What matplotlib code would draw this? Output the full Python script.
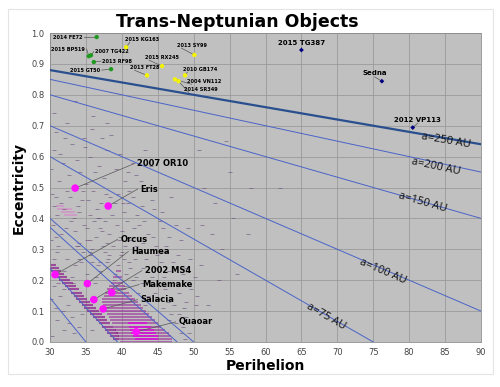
import numpy as np
import matplotlib
matplotlib.use("Agg")
import matplotlib.pyplot as plt
from matplotlib.patches import Rectangle

# semi-major axis curves e = 1 - q/a
a_lines = [35, 39.4, 47.7, 50, 75, 100, 150, 200, 250]
a_labelled = [250, 200, 150, 100, 75]
a_label_pos = {250: (85.1, 0.651), 200: (83.7, 0.567), 150: (81.9, 0.453),
               100: (76.3, 0.227), 75: (68.4, 0.082)}

# named objects
big_names = ["2007 OR10", "Eris", "Orcus", "Haumea", "2002 MS4", "Makemake", "Salacia", "Quaoar"]
big_q = [33.5, 38.1, 30.7, 35.2, 36.1, 38.6, 37.4, 42.0]
big_e = [0.498, 0.44, 0.218, 0.189, 0.137, 0.16, 0.107, 0.033]
big_lab = [(42.1, 0.577), (42.6, 0.495), (39.8, 0.332), (41.3, 0.293),
           (43.2, 0.231), (42.8, 0.186), (42.6, 0.137), (47.9, 0.065)]

green_names = ["2014 FE72", "2015 BP519", "2007 TG422", "2013 RF98", "2015 GT50"]
green_q = [36.5, 35.4, 35.7, 36.1, 38.5]
green_e = [0.987, 0.925, 0.928, 0.906, 0.883]
green_lab = [(34.5, 0.987, "right"), (34.9, 0.948, "right"), (36.3, 0.94, "left"),
             (37.3, 0.909, "left"), (37.0, 0.88, "right")]

yellow_names = ["2015 KG163", "2013 SY99", "2015 RX245", "2013 FT28", "2010 GB174", "2004 VN112", "2014 SR349"]
yellow_q = [40.6, 50.1, 45.6, 43.5, 48.8, 47.4, 47.9]
yellow_e = [0.954, 0.929, 0.893, 0.863, 0.863, 0.85, 0.844]
yellow_lab = [(40.5, 0.98), (47.7, 0.961), (43.2, 0.922), (41.2, 0.889),
              (48.5, 0.883), (49.1, 0.844), (48.7, 0.818)]

navy_names = ["2015 TG387", "Sedna", "2012 VP113"]
navy_q = [65.0, 76.2, 80.5]
navy_e = [0.945, 0.844, 0.694]
navy_lab = [(65.0, 0.967), (75.2, 0.87), (81.2, 0.72)]

# dense resonant / classical rows: e, q start, q end
pl_e = [0.25, 0.24, 0.23, 0.22, 0.21, 0.20, 0.19, 0.18, 0.17, 0.16, 0.15, 0.14, 0.13,
        0.12, 0.11, 0.10, 0.09, 0.08, 0.07, 0.06, 0.05, 0.04, 0.03, 0.02, 0.01]
pl_q0 = [30.0, 30.0, 30.2, 30.6, 31.0, 31.3, 31.7, 32.1, 32.5, 32.9, 33.3, 33.6, 34.0,
         34.4, 34.8, 35.2, 35.6, 36.0, 36.4, 36.8, 37.2, 37.6, 38.0, 38.4, 38.8]
pl_q1 = [30.8, 31.2, 31.6, 32.0, 32.4, 32.8, 33.2, 33.6, 34.0, 34.4, 34.8, 35.2, 35.6,
         36.0, 36.4, 36.8, 37.2, 37.6, 38.0, 38.4, 38.8, 39.2, 39.4, 39.6, 39.6]

cl_e = [0.00, 0.01, 0.02, 0.03, 0.04, 0.05, 0.06, 0.07, 0.08, 0.09, 0.10, 0.11, 0.12,
        0.13, 0.14, 0.15, 0.16, 0.17, 0.18, 0.19, 0.21, 0.23]
cl_q0 = [39.8, 39.6, 39.4, 39.2, 39.0, 38.8, 38.6, 38.4, 38.2, 38.0, 37.8, 37.6, 37.4,
         37.3, 37.3, 37.5, 37.7, 37.9, 38.2, 38.5, 38.8, 39.2]
cl_q1 = [47.0, 47.0, 46.8, 46.5, 46.0, 45.5, 45.0, 44.6, 44.2, 43.8, 43.4, 43.0, 42.6,
         42.2, 41.8, 41.4, 41.0, 40.6, 40.4, 40.2, 40.0, 39.9]

hot_e = [0.01, 0.02, 0.03, 0.04, 0.05, 0.06]
hot_q0 = [41.8, 41.5, 41.3, 41.1, 41.0, 40.9]
hot_q1 = [45.0, 45.0, 44.8, 44.5, 44.0, 43.5]

pink_e = [0.44, 0.43, 0.42, 0.41]
pink_q0 = [30.8, 31.0, 31.5, 32.0]
pink_q1 = [32.0, 33.0, 33.5, 33.8]

# scattered objects
sc_q = [30.5, 31.8, 33.0, 34.2, 35.5, 36.8, 38.0, 31.2, 32.6, 35.0, 37.5, 39.2, 40.5, 41.6,
        30.8, 32.4, 34.8, 36.0, 33.5, 38.5,
        30.3, 31.5, 32.8, 34.0, 35.3, 36.5, 37.8, 39.0, 40.3, 41.5, 42.8, 31.0, 33.4, 36.0,
        38.7, 43.5, 44.5, 30.5, 32.0, 34.6,
        30.4, 31.6, 32.9, 34.1, 35.2, 36.4, 37.6, 38.8, 40.0, 41.2, 42.4, 43.6, 44.8, 45.8,
        31.1, 33.5, 35.9, 38.2, 40.7, 42.9, 46.5, 47.5, 30.9, 34.7,
        31.0, 32.3, 33.5, 34.6, 35.8, 37.0, 38.2, 39.4, 40.6, 41.8, 43.0, 44.2, 45.4, 46.6,
        47.8, 36.4, 38.9, 42.5, 35.2, 44.9, 48.5, 49.5, 33.0, 40.0,
        30.5, 31.4, 32.5, 33.2, 30.8, 44.0, 45.0, 46.0, 47.2, 48.0, 42.8, 43.6, 45.8, 41.5,
        49.0, 36.2, 31.8,
        31.0, 32.0, 33.0, 34.0, 33.4, 47.5, 48.2, 49.0, 46.8, 48.8,
        51.0, 52.5, 54.0, 53.0, 55.5, 56.0, 51.5, 50.5, 52.0, 58.0,
        36.9, 37.4, 38.1, 39.6, 35.6, 34.3, 36.7, 39.9, 41.0, 37.2, 35.1, 33.9, 40.2, 42.0,
        30.2, 31.4, 33.7, 34.9, 36.2, 37.3, 39.8, 40.9, 42.7, 44.0, 32.1, 35.8, 30.6, 37.9, 43.2,
        30.9, 32.3, 33.9, 35.6, 37.1, 39.5, 40.8, 42.1, 44.2, 45.6, 46.9, 36.8, 38.4, 41.0, 34.4,
        30.2, 32.2, 33.8, 35.5, 36.9, 37.9, 39.3, 40.4, 41.7, 43.1, 44.3, 45.3, 46.1, 48.3,
        49.2, 36.1, 39.7, 42.0,
        30.6, 31.9, 34.0, 35.5, 36.7, 37.6, 39.0, 40.3, 41.2, 42.0, 43.4, 44.6, 45.9, 47.1,
        48.9, 50.2, 46.2, 37.9,
        30.2, 31.1, 32.0, 43.2, 44.6, 46.4, 47.7, 48.6, 42.2, 45.3, 41.3, 40.5, 49.6, 50.3,
        30.3, 32.6, 34.5, 35.8, 47.9, 48.5, 49.4, 46.5,
        53.5, 57.5, 51.2, 55.0, 62.0, 50.8, 54.5]
sc_e = [0.62, 0.58, 0.64, 0.55, 0.60, 0.57, 0.62, 0.52, 0.54, 0.51, 0.53, 0.56, 0.52, 0.58,
        0.68, 0.71, 0.66, 0.73, 0.78, 0.67,
        0.48, 0.45, 0.47, 0.42, 0.46, 0.43, 0.48, 0.45, 0.42, 0.47, 0.44, 0.41, 0.40, 0.49,
        0.41, 0.49, 0.43, 0.44, 0.43, 0.49,
        0.38, 0.35, 0.39, 0.32, 0.37, 0.34, 0.39, 0.31, 0.36, 0.33, 0.38, 0.35, 0.31, 0.37,
        0.31, 0.36, 0.30, 0.35, 0.39, 0.32, 0.34, 0.38, 0.34, 0.38,
        0.29, 0.27, 0.25, 0.29, 0.26, 0.23, 0.28, 0.25, 0.22, 0.27, 0.24, 0.21, 0.26, 0.23,
        0.28, 0.21, 0.20, 0.29, 0.22, 0.28, 0.22, 0.27, 0.21, 0.29,
        0.18, 0.15, 0.12, 0.19, 0.11, 0.18, 0.14, 0.17, 0.12, 0.16, 0.19, 0.15, 0.11, 0.20,
        0.13, 0.19, 0.10,
        0.07, 0.04, 0.08, 0.05, 0.03, 0.06, 0.03, 0.08, 0.09, 0.01,
        0.25, 0.35, 0.30, 0.45, 0.40, 0.22, 0.50, 0.15, 0.12, 0.50,
        0.26, 0.31, 0.27, 0.33, 0.28, 0.26, 0.40, 0.28, 0.26, 0.36, 0.33, 0.31, 0.45, 0.54,
        0.56, 0.61, 0.59, 0.63, 0.55, 0.66, 0.61, 0.55, 0.52, 0.57, 0.66, 0.69, 0.74, 0.71, 0.62,
        0.47, 0.49, 0.44, 0.41, 0.45, 0.48, 0.45, 0.41, 0.46, 0.42, 0.47, 0.40, 0.47, 0.49, 0.46,
        0.33, 0.37, 0.31, 0.33, 0.37, 0.32, 0.38, 0.31, 0.37, 0.39, 0.34, 0.39, 0.31, 0.33,
        0.37, 0.39, 0.34, 0.31,
        0.27, 0.23, 0.27, 0.29, 0.25, 0.29, 0.22, 0.27, 0.24, 0.21, 0.27, 0.24, 0.21, 0.26,
        0.24, 0.21, 0.29, 0.26,
        0.14, 0.19, 0.17, 0.12, 0.16, 0.13, 0.19, 0.11, 0.16, 0.19, 0.14, 0.18, 0.17, 0.12,
        0.02, 0.06, 0.09, 0.04, 0.09, 0.05, 0.03, 0.07,
        0.20, 0.35, 0.38, 0.55, 0.50, 0.62, 0.65]

fig = plt.figure(figsize=(5.0, 3.87), dpi=100)
fig.patches.append(Rectangle((0.016, 0.034), 0.97, 0.943, transform=fig.transFigure,
                             facecolor="white", edgecolor="#e4e4e4", lw=0.8, zorder=-1))
ax = fig.add_axes([0.1, 0.1163, 0.862, 0.7984])
ax.set_facecolor("#c0c0c0")
ax.set_xlim(30, 90)
ax.set_ylim(0, 1.0)
ax.set_xticks(np.arange(30, 91, 5))
ax.set_yticks(np.arange(0, 1.01, 0.1))
ax.set_yticklabels([f"{v:.1f}" for v in np.arange(0, 1.01, 0.1)])
ax.tick_params(labelsize=6, colors="#444444", length=0, pad=4)
ax.grid(True, color="#9a9a9a", lw=0.6)
ax.set_axisbelow(True)
for s in ax.spines.values():
    s.set_color("#8c8c8c")
    s.set_linewidth(0.6)

# cloud of TNOs
ax.hlines(pink_e, pink_q0, pink_q1, color="#d68ac8", lw=1.3, alpha=0.7, zorder=2)
ax.scatter(sc_q, sc_e, marker="_", s=6, linewidths=0.7, color="#6a4c78", alpha=0.6, zorder=2)
ax.hlines(cl_e, cl_q0, cl_q1, color="#9b2d9b", lw=1.4, alpha=0.6, zorder=2)
ax.hlines(pl_e, pl_q0, pl_q1, color="#8a1a8a", lw=1.5, alpha=0.7, zorder=2)
ax.hlines(hot_e, hot_q0, hot_q1, color="#e000e0", lw=1.4, alpha=0.7, zorder=2)

# constant semi-major axis lines
qq = np.array([0.0, 90.0])
for a in a_lines:
    if a == 250:
        ax.plot(qq, 1 - qq / a, color="#2a4f8f", lw=1.6, zorder=3)
    else:
        ax.plot(qq, 1 - qq / a, color="#4a63c8", lw=0.7, zorder=3)

ax_w = 0.862 * 500
ax_h = 0.7984 * 387
for a in a_labelled:
    ang = np.degrees(np.arctan(-(ax_h / a) / (ax_w / 60)))
    x, y = a_label_pos[a]
    ax.text(x, y, f"a={a} AU", rotation=ang, rotation_mode="anchor", ha="center", va="center",
            fontsize=8, family="Open Sans", color="#111111", zorder=5)

# named objects and labels
lead = dict(color="#555555", lw=0.5, zorder=3)
ax.scatter(big_q, big_e, s=30, color="#ff10ff", edgecolors="none", zorder=6)
for n, q, e, (lx, ly) in zip(big_names, big_q, big_e, big_lab):
    ax.plot([lx - 0.4, q], [ly, e], **lead)
    ax.text(lx, ly, n, fontsize=6, fontweight="semibold", va="center", ha="left", zorder=6)

ax.scatter(green_q, green_e, s=10, color="#1f9a1f", edgecolors="none", zorder=6)
for n, q, e, (lx, ly, h) in zip(green_names, green_q, green_e, green_lab):
    ax.plot([lx + (0.2 if h == "right" else -0.2), q], [ly, e], **lead)
    ax.text(lx, ly, n, fontsize=3.6, fontweight="bold", va="center", ha=h, zorder=6)

ax.scatter(yellow_q, yellow_e, s=10, color="#f4f400", edgecolors="none", zorder=6)
for n, q, e, (lx, ly) in zip(yellow_names, yellow_q, yellow_e, yellow_lab):
    ax.plot([lx + 0.6, q], [ly - 0.01, e], **lead)
    ax.text(lx, ly, n, fontsize=3.6, fontweight="bold", va="center", ha="left", zorder=6)

ax.scatter(navy_q, navy_e, s=6, marker="D", color="#000080", edgecolors="none", zorder=6)
for n, q, e, (lx, ly) in zip(navy_names, navy_q, navy_e, navy_lab):
    ax.plot([lx, q], [ly - 0.012, e], **lead)
    ax.text(lx, ly, n, fontsize=5, fontweight="semibold", va="center", ha="center", zorder=6)

fig.text(0.475, 0.944, "Trans-Neptunian Objects", fontsize=12.5, fontweight="bold",
         ha="center", va="center")
ax.set_xlabel("Perihelion", fontsize=10, fontweight="bold", labelpad=2)
ax.set_ylabel("Eccentricity", fontsize=10, fontweight="bold", labelpad=4)

fig.savefig("out.png", dpi=100)
